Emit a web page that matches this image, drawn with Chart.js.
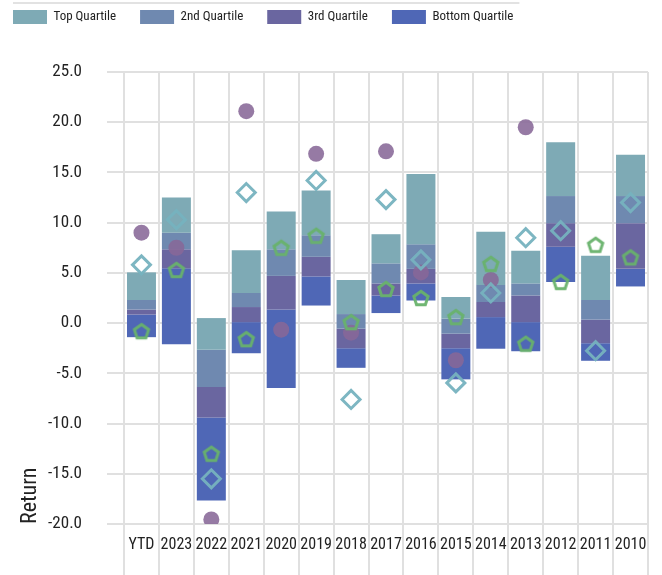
<!DOCTYPE html>
<html>
<head>
<meta charset="utf-8">
<script src="https://cdn.jsdelivr.net/npm/chart.js@4.4.1/dist/chart.umd.min.js"></script>
<style>
  html, body { margin: 0; padding: 0; background: #ffffff; }
  #wrap { width: 662px; height: 575px; position: relative; }
</style>
</head>
<body>
<div id="wrap"><canvas id="c"></canvas></div>
<script>
// Periods on the x axis
const categories = ['YTD', '2023', '2022', '2021', '2020', '2019', '2018', '2017',
                    '2016', '2015', '2014', '2013', '2012', '2011', '2010'];

const quartileNames = ['Top Quartile', '2nd Quartile', '3rd Quartile', 'Bottom Quartile'];

// Quartile breakpoints per period (returns, %)
const rangeHigh = [5.05, 12.5, 0.5, 7.25, 11.1, 13.2, 4.3, 8.85, 14.85, 2.6, 9.1, 7.2, 18.0, 6.7, 16.75];
const breakTop  = [2.3, 9.0, -2.65, 3.0, 7.35, 8.75, 0.9, 5.95, 7.85, 0.45, 3.8, 3.95, 12.65, 2.3, 12.65];
const breakMid  = [1.35, 7.35, -6.35, 1.6, 4.7, 6.6, -0.55, 3.95, 5.4, -1.05, 2.1, 2.75, 9.95, 0.35, 9.95];
const breakLow  = [0.85, 5.45, -9.4, 0.1, 1.35, 4.65, -2.5, 2.75, 3.95, -2.5, 0.6, 0.1, 7.6, -2.0, 5.4];
const rangeLow  = [-1.4, -2.1, -17.65, -3.0, -6.45, 1.75, -4.45, 1.0, 2.25, -5.6, -2.55, -2.8, 4.1, -3.75, 3.65];

// Point series drawn over the quartile bars
const fundReturn  = [9.0, 7.5, -19.55, 21.1, -0.65, 16.85, -0.95, 17.1, 5.05, -3.7, 4.3, 19.5, null, null, null];
const indexReturn = [5.8, 10.3, -15.5, 13.0, null, 14.2, -7.6, 12.3, 6.3, -5.95, 3.0, 8.5, 9.2, -2.75, 12.0];
const peerReturn  = [-0.8, 5.3, -13.0, -1.6, 7.5, 8.7, 0.1, 3.4, 2.5, 0.6, 5.9, -2.05, 4.1, 7.8, 6.55];

const quartileColors = ['#7eaab5', '#6f89b0', '#6a66a0', '#4f67b6'];
const FONT = "'Liberation Sans Narrow', 'Roboto Condensed', Roboto, 'Liberation Sans', Arial, sans-serif";
const GRID = '#e0e0e0';

// Build [low, high] ranges for each quartile band
const edges = [rangeHigh, breakTop, breakMid, breakLow, rangeLow];
const quartileSets = quartileNames.map((name, q) => ({
  type: 'bar',
  label: name,
  data: categories.map((_, i) => [edges[q + 1][i], edges[q][i]]),
  backgroundColor: quartileColors[q],
  borderWidth: 0,
  grouped: false,
  barPercentage: 0.83,
  categoryPercentage: 1.0,
  order: 10
}));

// Hollow pentagon marker
function pentagonMarker(r, lw, color) {
  const size = Math.ceil(2 * r + lw + 2);
  const cv = document.createElement('canvas');
  cv.width = size; cv.height = size;
  const g = cv.getContext('2d');
  const cx = size / 2, cy = size / 2 + r * 0.1;
  g.beginPath();
  for (let k = 0; k < 5; k++) {
    const a = -Math.PI / 2 + k * 2 * Math.PI / 5;
    const px = cx + r * Math.cos(a), py = cy + r * Math.sin(a);
    if (k === 0) g.moveTo(px, py); else g.lineTo(px, py);
  }
  g.closePath();
  g.lineWidth = lw;
  g.lineJoin = 'miter';
  g.strokeStyle = color;
  g.stroke();
  return cv;
}

const pointSets = [
  {
    type: 'line', label: 'Fund', data: fundReturn, showLine: false,
    pointStyle: 'circle', pointRadius: 8, pointHoverRadius: 8,
    pointBackgroundColor: 'rgba(135,104,151,0.88)', pointBorderWidth: 0,
    order: 3
  },
  {
    type: 'line', label: 'Index', data: indexReturn, showLine: false,
    pointStyle: 'rectRot', pointRadius: 9, pointHoverRadius: 9,
    pointBackgroundColor: 'rgba(255,255,255,0)', pointBorderColor: 'rgba(118,178,191,0.95)',
    pointBorderWidth: 3,
    order: 2
  },
  {
    type: 'line', label: 'Peer Group', data: peerReturn, showLine: false,
    pointStyle: pentagonMarker(7.5, 3, 'rgba(104,178,108,0.95)'), pointRadius: 9,
    order: 1
  }
];

// Extra room between the legend row and the plot
const legendGap = {
  id: 'legendGap',
  beforeUpdate(chart) {
    const lg = chart.legend;
    if (lg && !lg._gapPatched) {
      const fit = lg.fit;
      lg.fit = function () { fit.call(this); this.height += 38; };
      lg._gapPatched = true;
    }
  }
};

// Thin rule above the legend row
const legendRule = {
  id: 'legendRule',
  afterDraw(chart) {
    const hb = chart.legend && chart.legend.legendHitBoxes;
    if (!hb || !hb.length) return;
    const last = hb[hb.length - 1];
    const y = hb[0].top - 7;
    const c = chart.ctx;
    c.save();
    c.strokeStyle = '#e2e2e2';
    c.lineWidth = 2;
    c.beginPath();
    c.moveTo(hb[0].left, y);
    c.lineTo(last.left + last.width + 6, y);
    c.stroke();
    c.restore();
  }
};

new Chart(document.getElementById('c'), {
  data: { labels: categories, datasets: [...quartileSets, ...pointSets] },
  plugins: [legendGap, legendRule],
  options: {
    responsive: true,
    maintainAspectRatio: false,
    animation: false,
    layout: { padding: { left: -11, top: -14, right: 14, bottom: 0 } },
    plugins: {
      tooltip: { enabled: false },
      legend: {
        position: 'top',
        align: 'start',
        labels: {
          filter: item => item.datasetIndex < quartileNames.length,
          boxWidth: 34,
          boxHeight: 14,
          padding: 24,
          color: '#222222',
          font: { family: FONT, size: 13 }
        }
      }
    },
    scales: {
      x: {
        type: 'category',
        offset: true,
        grid: { color: GRID, lineWidth: 2, tickLength: 51, offset: true },
        border: { color: GRID, width: 2 },
        ticks: {
          autoSkip: false, maxRotation: 0, minRotation: 0,
          padding: -40, color: '#222222',
          font: { family: FONT, size: 16 }
        },
        afterFit(scale) { scale.height = 51; }
      },
      y: {
        min: -20, max: 25,
        ticks: {
          stepSize: 5, padding: 25, color: '#222222',
          font: { family: FONT, size: 17 },
          callback: v => Number(v).toFixed(1)
        },
        grid: { color: GRID, lineWidth: 2, tickLength: 17 },
        border: { color: GRID, width: 2 },
        title: {
          display: true, text: 'Return', align: 'start',
          color: '#222222',
          font: { family: FONT, size: 22 },
          padding: { top: 28, bottom: 8 }
        },
        afterFit(scale) { scale.width = 135; }
      }
    }
  }
});
</script>
</body>
</html>
